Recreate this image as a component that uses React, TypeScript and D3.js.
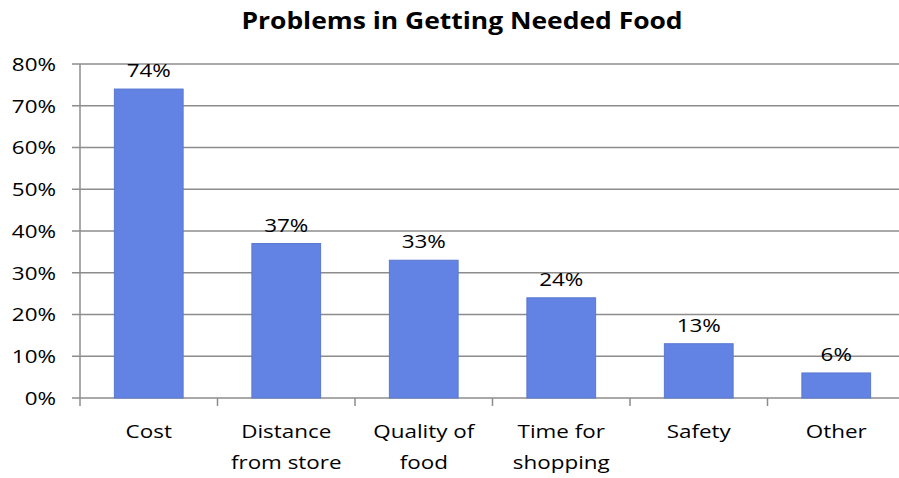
import React from "react";
import * as d3 from "d3";

const categories = [["Cost"], ["Distance", "from store"], ["Quality of", "food"], ["Time for", "shopping"], ["Safety"], ["Other"]];
const values = [0.74, 0.37, 0.33, 0.24, 0.13, 0.06];
const yTicks = [0, 0.1, 0.2, 0.3, 0.4, 0.5, 0.6, 0.7, 0.8];
const title = "Problems in Getting Needed Food";

const font = "'Open Sans', 'Liberation Sans', sans-serif";

function T({ x, y, anchor = "middle", size = 19, sx = 1.18, bold = false, dy, children }: any) {
  return (
    <g transform={`translate(${x},${y}) scale(${sx},1)`}>
      <text textAnchor={anchor} dy={dy} fontFamily={font} fontWeight={bold ? "bold" : "normal"} fontSize={size} fill="#000">{children}</text>
    </g>
  );
}

export default function App() {
  const W = 899, H = 478;
  const left = 80, right = 905, top = 64, bottom = 398;
  const keys = categories.map((c) => c.join(" "));
  const x = d3.scaleBand<string>().domain(keys).range([left, right]).paddingInner(0.5).paddingOuter(0.25);
  const y = d3.scaleLinear().domain([0, 0.8]).range([bottom, top]);
  const step = (right - left) / keys.length;
  const fmt = d3.format(".0%");
  const grid = "#8c8c8c";
  return (
    <svg width={W} height={H} style={{ position: "absolute", left: 0, top: 0, background: "#fff" }}>
      <T x={462} y={29} size={23} sx={1.15} bold>{title}</T>
      {yTicks.map((t) => (
        <g key={t}>
          <line x1={72} x2={W} y1={y(t)} y2={y(t)} stroke={grid} strokeWidth={1.5} />
          <T x={56} y={y(t)} anchor="end" dy="0.36em">{fmt(t)}</T>
        </g>
      ))}
      <line x1={left} x2={left} y1={top} y2={bottom + 8} stroke={grid} strokeWidth={1.5} />
      {keys.map((k, i) => (
        <line key={k} x1={left + step * (i + 1)} x2={left + step * (i + 1)} y1={bottom} y2={bottom + 8} stroke={grid} strokeWidth={1.5} />
      ))}
      {keys.map((k, i) => {
        const cx = (x(k) as number) + x.bandwidth() / 2;
        return (
          <g key={k}>
            <rect x={x(k)} y={y(values[i])} width={x.bandwidth()} height={y(0) - y(values[i])} fill="#6283e4" stroke="#5a78d0" strokeWidth={1} />
            <T x={cx} y={y(values[i]) - 12}>{fmt(values[i])}</T>
            {categories[i].map((line, j) => (
              <T key={j} x={cx} y={438 + j * 31}>{line}</T>
            ))}
          </g>
        );
      })}
    </svg>
  );
}
